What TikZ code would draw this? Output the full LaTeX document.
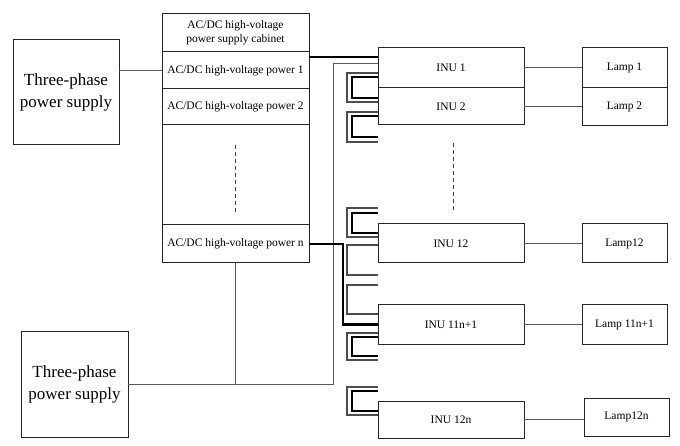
\documentclass[tikz,border=0pt]{standalone}
\usepackage{fontspec}
\setmainfont{Liberation Serif}
\begin{document}
\begin{tikzpicture}[x=1pt,y=-1pt,
  box/.style={draw=black!85, line width=1pt, inner sep=0pt, outer sep=0pt, anchor=north west, font=\fontsize{11.5}{13.5}\selectfont, align=center},
  bigbox/.style={box, font=\fontsize{17}{22}\selectfont},
  wire/.style={draw=black!65, line width=1pt},
  dcw/.style={draw=black, line width=2.2pt},
  gline/.style={draw=black!70, line width=1.1pt},
  dots/.style={draw=black!75, line width=1pt, dash pattern=on 4pt off 3pt}]
\useasboundingbox (0,0) rectangle (680,446);
% power supplies
\node[bigbox, minimum width=106pt, minimum height=105pt] (tp1) at (13,40) {Three-phase\\power supply};
\node[bigbox, minimum width=107pt, minimum height=106pt] (tp2) at (21,331) {Three-phase\\power supply};
% cabinet
\node[box, minimum width=147pt, minimum height=38pt] (cab) at (162,14) {AC/DC high-voltage\\power supply cabinet};
\node[box, minimum width=147pt, minimum height=37pt] (r1) at (162,52) {AC/DC high-voltage power 1};
\node[box, minimum width=147pt, minimum height=36pt] (r2) at (162,89) {AC/DC high-voltage power 2};
\node[box, minimum width=147pt, minimum height=100pt] (gap) at (162,125) {};
\node[box, minimum width=147pt, minimum height=38pt] (rn) at (162,225) {AC/DC high-voltage power n};
% INUs
\node[box, minimum width=146pt, minimum height=40pt] (inu1) at (378,48) {INU 1};
\node[box, minimum width=146pt, minimum height=37pt] (inu2) at (378,88) {INU 2};
\node[box, minimum width=146pt, minimum height=39pt] (inu12) at (378,224) {INU 12};
\node[box, minimum width=146pt, minimum height=39pt] (inu11) at (378,305) {INU 11n+1};
\node[box, minimum width=146pt, minimum height=37pt] (inu12n) at (378,401) {INU 12n};
% lamps
\node[box, minimum width=85pt, minimum height=40pt] (lamp1) at (582,48) {Lamp 1};
\node[box, minimum width=85pt, minimum height=38pt] (lamp2) at (582,88) {Lamp 2};
\node[box, minimum width=85pt, minimum height=39pt] (lamp12) at (582,224) {Lamp12};
\node[box, minimum width=85pt, minimum height=39pt] (lamp11) at (582,305) {Lamp 11n+1};
\node[box, minimum width=85pt, minimum height=38pt] (lamp12n) at (584,398) {Lamp12n};
% dotted continuation
\draw[dots] (gap.north |- 0,145) -- (gap.north |- 0,212);
\draw[dots] (453,143) -- (453,210);
% supply lines
\draw[wire] (r1.west -| tp1.east) -- (r1.west);
\draw[wire] (rn.south) -- (rn.south |- tp2.east);
\coordinate (gb) at (333,64);
\draw[wire] (tp2.east) -| (gb) -- (gb -| inu1.west);
% INU to lamp
\draw[wire] (inu1.east) -- (lamp1.west);
\draw[wire] (inu2.east) -- (inu2.east -| lamp2.west);
\draw[wire] (inu12.east) -- (lamp12.west);
\draw[wire] (inu11.east) -- (lamp11.west);
\draw[wire] (inu12n.east) -- (inu12n.east -| lamp12n.west);
% DC feeders
\draw[dcw] (r1.east |- 0,57) -- (inu1.west |- 0,57);
\draw[dcw] (rn.east) -- (343,244) |- (inu11.west);
% chain brackets
\newcommand{\dbl}[4]{%
  \draw[gline] (inu1.west |- 0,#1) -- (347,#1) -- (347,#2) -- (inu1.west |- 0,#2);
  \draw[dcw] (inu1.west |- 0,#3) -- (352,#3) -- (352,#4) -- (inu1.west |- 0,#4);}
\dbl{73}{102}{77}{98}
\dbl{112}{142}{116}{137}
\dbl{208}{237}{213}{233}
\draw[gline] (inu12.west |- 0,245) -- (347,245) -- (347,275) -- (inu12.west |- 0,275);
\draw[gline] (inu11.west |- 0,285) -- (347,285) -- (347,314) -- (inu11.west |- 0,314);
\dbl{333}{360}{337}{356}
\dbl{387}{415}{391}{411}
\end{tikzpicture}
\end{document}
